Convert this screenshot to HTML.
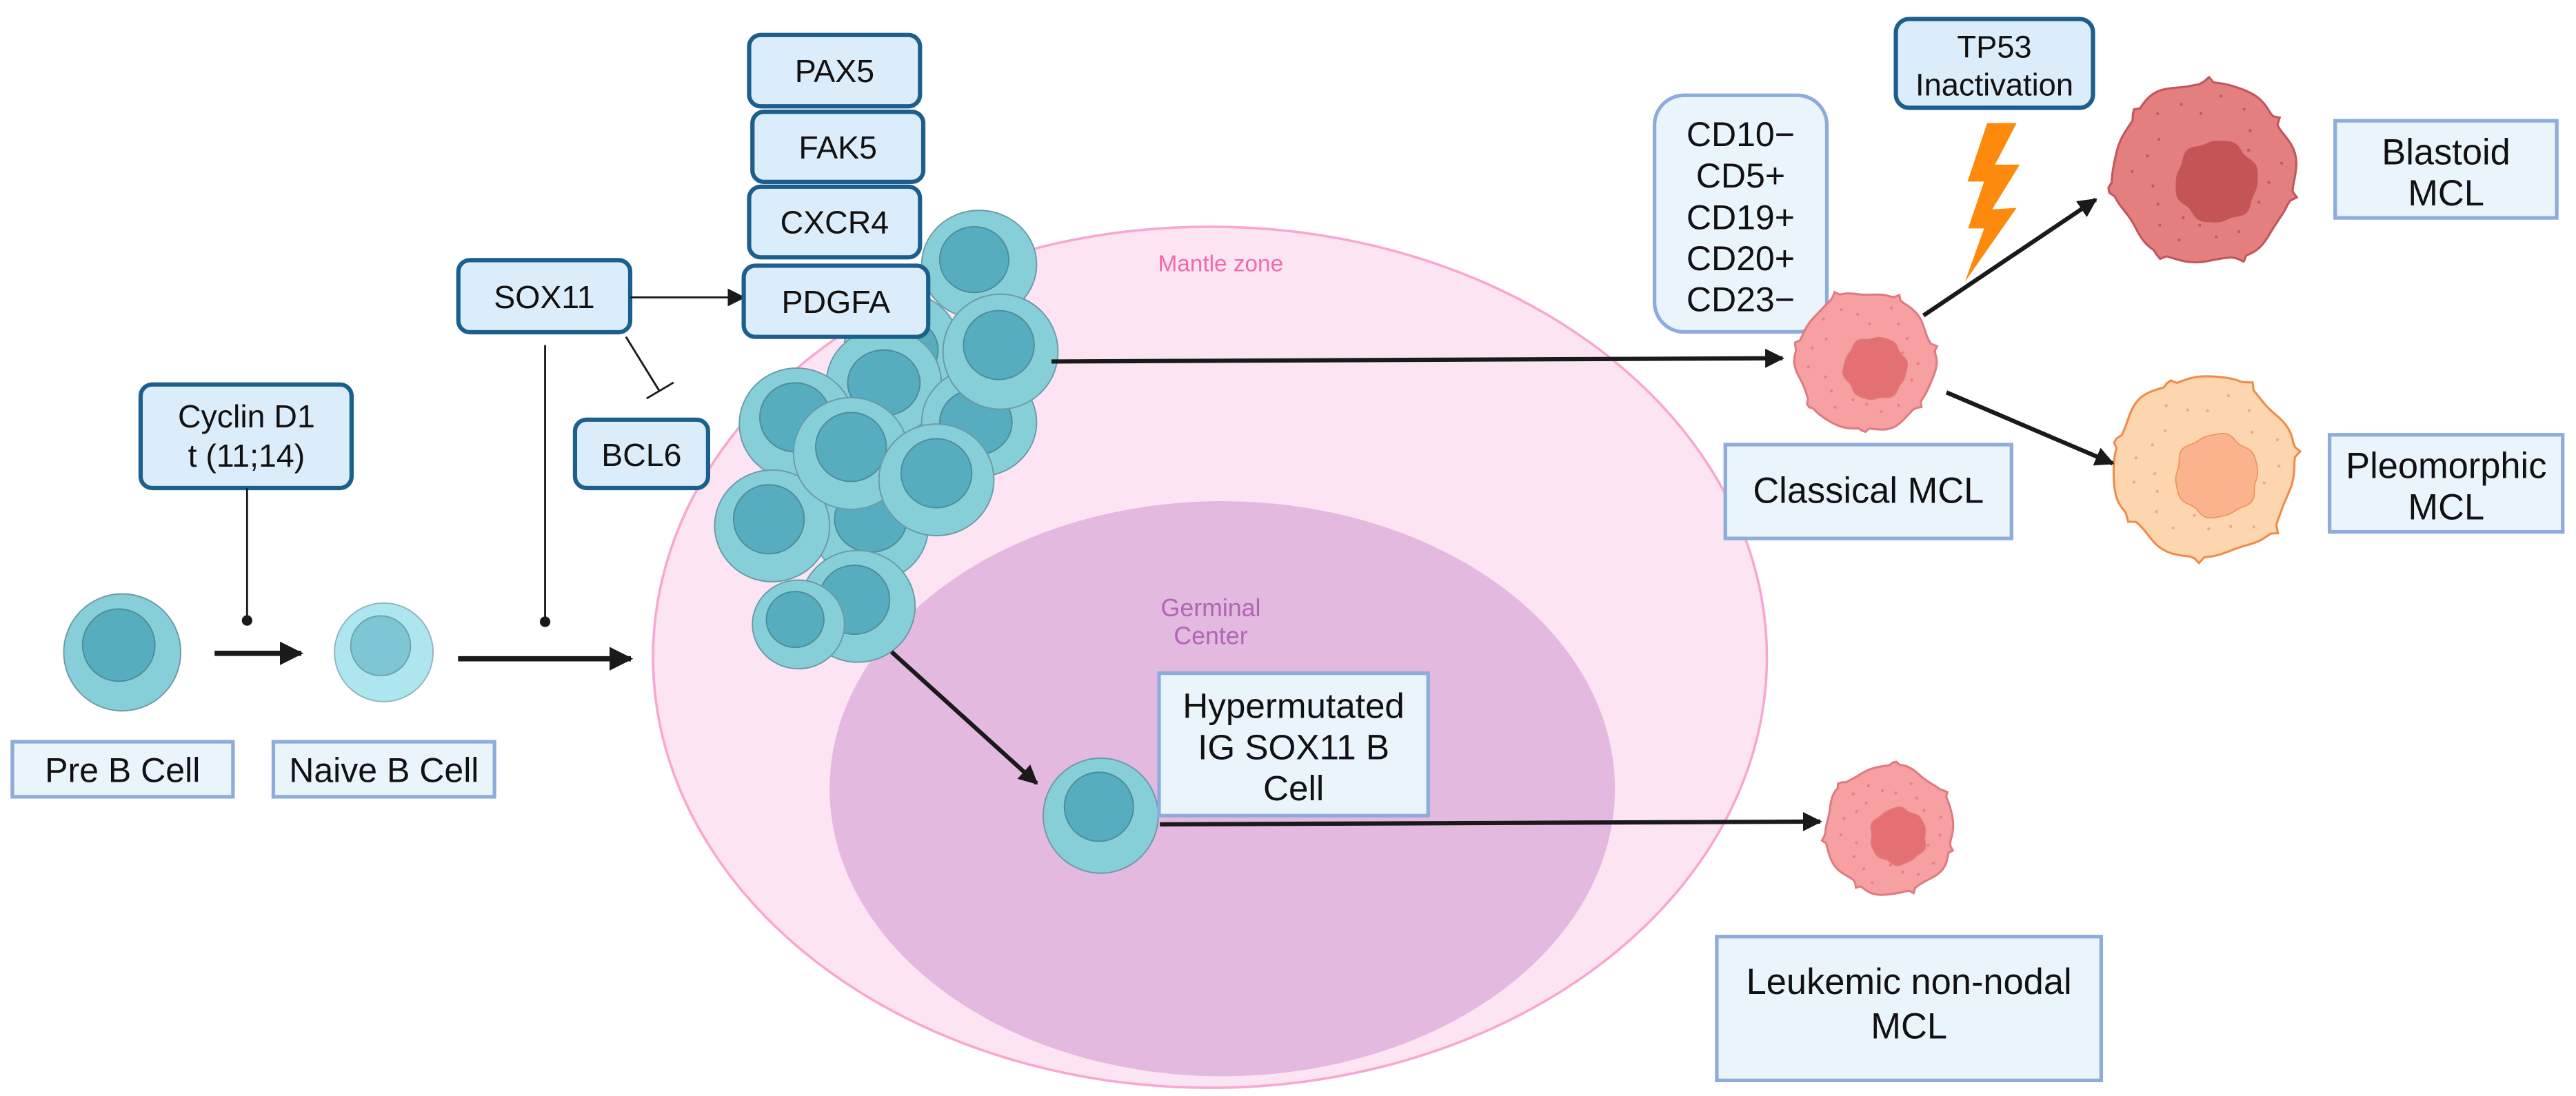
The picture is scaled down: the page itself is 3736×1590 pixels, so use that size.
<!DOCTYPE html>
<html><head><meta charset="utf-8"><style>
html,body{margin:0;padding:0;background:#fff;}
svg{display:block;}
text{font-family:"Liberation Sans",sans-serif;fill:#111;text-anchor:middle;}
.db{fill:#dbecfa;stroke:#1d5f8c;stroke-width:2.6;}
.lb{fill:#eaf4fb;stroke:#8dacdb;stroke-width:2.2;}
.bo{fill:#86cfd9;stroke:#6a9aa5;stroke-width:0.8;}
.bi{fill:#57adc0;stroke:#4c8c9a;stroke-width:0.8;}
</style></head><body>
<svg width="3736" height="1590" viewBox="0 0 1568 667" preserveAspectRatio="none" xmlns="http://www.w3.org/2000/svg">
<defs>
<marker id="ah" viewBox="0 0 10 10" refX="9" refY="5" markerWidth="4.5" markerHeight="4.5" orient="auto" markerUnits="strokeWidth"><path d="M0,0 L10,5 L0,10 z" fill="#1a1a1a"/></marker>
<marker id="ah2" viewBox="0 0 10 10" refX="9" refY="5" markerWidth="9" markerHeight="9" orient="auto" markerUnits="strokeWidth"><path d="M0,0 L10,5 L0,10 z" fill="#1a1a1a"/></marker>
</defs>
<ellipse cx="736.5" cy="400" rx="339" ry="262" fill="#fde4f2" stroke="#f8a7d0" stroke-width="1.5"/>
<ellipse cx="744" cy="480" rx="239" ry="175" fill="#e3b9df"/>
<text x="743" y="165" font-size="14" style="fill:#f06aaa">Mantle zone</text>
<text x="737" y="375" font-size="15" style="fill:#b165b4">Germinal</text>
<text x="737" y="392" font-size="15" style="fill:#b165b4">Center</text>

<circle class="bo" cx="74.4" cy="397" r="35.6"/><circle class="bi" cx="72.3" cy="392.6" r="22"/>
<circle cx="233.6" cy="397" r="30" fill="#aee6ef" stroke="#8fb4bd" stroke-width="0.8"/><circle cx="231.7" cy="393" r="18.2" fill="#7fc6d4" stroke="#69a3ae" stroke-width="0.8"/>
<rect class="lb" x="7.5" y="451.4" width="134.3" height="33.5"/><text x="74.6" y="476" font-size="21">Pre B Cell</text>
<rect class="lb" x="166.4" y="451.4" width="134.6" height="33.5"/><text x="233.7" y="476" font-size="21">Naive B Cell</text>

<line x1="130.6" y1="397.6" x2="183.3" y2="397.6" stroke="#1a1a1a" stroke-width="3.2" marker-end="url(#ah)"/>
<line x1="278.8" y1="400.9" x2="384" y2="400.9" stroke="#1a1a1a" stroke-width="3.2" marker-end="url(#ah)"/>

<rect class="db" x="85.6" y="234" width="128.4" height="63" rx="7"/>
<text x="150" y="260" font-size="19.5">Cyclin D1</text><text x="150" y="284" font-size="19.5">t (11;14)</text>
<line x1="150.4" y1="297" x2="150.4" y2="377.6" stroke="#1a1a1a" stroke-width="1.2"/><circle cx="150.4" cy="377.6" r="3.2" fill="#1a1a1a"/>

<rect class="db" x="279" y="158.3" width="104.6" height="43.9" rx="7"/><text x="331.3" y="187.5" font-size="19.5">SOX11</text>
<line x1="331.8" y1="210" x2="331.8" y2="378.4" stroke="#1a1a1a" stroke-width="1.2"/><circle cx="331.8" cy="378.4" r="3.2" fill="#1a1a1a"/>
<line x1="383.6" y1="181" x2="452.7" y2="181" stroke="#1a1a1a" stroke-width="1.2" marker-end="url(#ah2)"/>
<line x1="381" y1="205" x2="401.6" y2="238.3" stroke="#1a1a1a" stroke-width="1.2"/>
<line x1="393.6" y1="242.5" x2="410" y2="232.8" stroke="#1a1a1a" stroke-width="1.2"/>
<rect class="db" x="350" y="255.4" width="81" height="41.6" rx="7"/><text x="390.5" y="283.5" font-size="19.5">BCL6</text>

<g>
<ellipse class="bo" cx="549" cy="211" rx="35" ry="33"/><ellipse class="bi" cx="549" cy="213" rx="22" ry="20"/>
<ellipse class="bo" cx="538" cy="233" rx="35" ry="33"/><ellipse class="bi" cx="538" cy="233" rx="22" ry="20"/>
<ellipse class="bo" cx="596" cy="257" rx="35" ry="33"/><ellipse class="bi" cx="594" cy="257" rx="22" ry="20"/>
<ellipse class="bo" cx="530" cy="321" rx="35" ry="33"/><ellipse class="bi" cx="530" cy="316" rx="22" ry="20"/>
<ellipse class="bo" cx="596" cy="161" rx="35" ry="33"/><ellipse class="bi" cx="593" cy="158" rx="21" ry="20"/>
<ellipse class="bo" cx="609" cy="214" rx="35" ry="35"/><ellipse class="bi" cx="608" cy="210" rx="21.5" ry="21"/>
<ellipse class="bo" cx="485" cy="258" rx="35" ry="34"/><ellipse class="bi" cx="484" cy="254" rx="21.5" ry="21"/>
<ellipse class="bo" cx="470" cy="320" rx="35" ry="34"/><ellipse class="bi" cx="468" cy="316" rx="21.5" ry="21"/>
<ellipse class="bo" cx="518" cy="276" rx="35" ry="34"/><ellipse class="bi" cx="518" cy="272" rx="21.5" ry="21"/>
<ellipse class="bo" cx="570" cy="292" rx="35" ry="34"/><ellipse class="bi" cx="570" cy="288" rx="21.5" ry="21"/>
<ellipse class="bo" cx="522" cy="369" rx="35" ry="34"/><ellipse class="bi" cx="520" cy="365" rx="21.5" ry="21"/>
<ellipse class="bo" cx="486" cy="380" rx="28" ry="27"/><ellipse class="bi" cx="484" cy="377" rx="17.5" ry="17"/>
</g>

<rect class="db" x="456" y="21.3" width="104" height="43.4" rx="7"/><text x="508" y="50" font-size="19.5">PAX5</text>
<rect class="db" x="458" y="68" width="104" height="42.7" rx="7"/><text x="510" y="96.5" font-size="19.5">FAK5</text>
<rect class="db" x="456" y="113.6" width="104" height="43" rx="7"/><text x="508" y="142" font-size="19.5">CXCR4</text>
<rect class="db" x="452.7" y="161.7" width="112.3" height="43.3" rx="7"/><text x="508.8" y="190.5" font-size="19.5">PDGFA</text>

<line x1="640" y1="220" x2="1085" y2="218" stroke="#1a1a1a" stroke-width="2.6" marker-end="url(#ah)"/>
<line x1="542.7" y1="396.7" x2="631" y2="476.7" stroke="#1a1a1a" stroke-width="2.6" marker-end="url(#ah)"/>

<circle class="bo" cx="670" cy="496.4" r="35"/><circle class="bi" cx="668.9" cy="491" r="21"/>
<rect class="lb" x="705.5" y="409.7" width="163.8" height="86.7"/>
<text x="787.4" y="437" font-size="21.5">Hypermutated</text><text x="787.4" y="462" font-size="21.5">IG SOX11 B</text><text x="787.4" y="487" font-size="21.5">Cell</text>
<line x1="706" y1="501.7" x2="1108" y2="500" stroke="#1a1a1a" stroke-width="2.6" marker-end="url(#ah)"/>

<rect class="lb" x="1007.1" y="58" width="104.9" height="144" rx="18"/>
<text x="1059.5" y="89" font-size="21">CD10−</text><text x="1059.5" y="114" font-size="21">CD5+</text><text x="1059.5" y="139.5" font-size="21">CD19+</text><text x="1059.5" y="164.5" font-size="21">CD20+</text><text x="1059.5" y="189.5" font-size="21">CD23−</text>

<rect class="db" x="1154" y="11.6" width="120" height="54" rx="8"/>
<text x="1214" y="35" font-size="19">TP53</text><text x="1214" y="58" font-size="19">Inactivation</text>
<polygon points="1209.6,74.9 1227.5,74.9 1214.4,100.2 1229.4,100.2 1212.6,127.4 1227.5,126.5 1196.1,171.4 1207.7,139 1198,139 1207.7,110.5 1197.6,110.5" fill="#fd8a0c"/>

<g id="cells"></g>
<circle id="fb1" cx="1135.5" cy="220" r="43" fill="#f6a0a2" stroke="#e07b7e"/>

<line x1="1170.8" y1="192" x2="1275.7" y2="121.4" stroke="#1a1a1a" stroke-width="2.6" marker-end="url(#ah)"/>
<line x1="1184.8" y1="238.8" x2="1286" y2="282" stroke="#1a1a1a" stroke-width="2.6" marker-end="url(#ah)"/>

<rect class="lb" x="1050.2" y="270.6" width="174.2" height="57.1"/><text x="1137.3" y="306" font-size="22">Classical MCL</text>
<rect class="lb" x="1421.4" y="73.5" width="134.9" height="59.1"/><text x="1488.9" y="100" font-size="22">Blastoid</text><text x="1488.9" y="125" font-size="22">MCL</text>
<rect class="lb" x="1418" y="264.6" width="141.9" height="59.1"/><text x="1489" y="291" font-size="22">Pleomorphic</text><text x="1489" y="316" font-size="22">MCL</text>
<rect class="lb" x="1045" y="570" width="234" height="87.5"/><text x="1162" y="605" font-size="22">Leukemic non-nodal</text><text x="1162" y="632" font-size="22">MCL</text>
</svg>
<script>
(function(){
var ns="http://www.w3.org/2000/svg",g=document.getElementById('cells');
var fb=document.getElementById('fb1');if(fb)fb.parentNode.removeChild(fb);
function blob(cx,cy,r,seed,amp,spk,sp){
 var d="",n=120;
 for(var i=0;i<=n;i++){var a=i/n*Math.PI*2;
  var rr=r*(1+amp*Math.sin(a*6+seed)+amp*0.5*Math.sin(a*10+seed*2));
  var s=Math.pow(Math.max(0,Math.sin(a*spk+seed*3)),30)*r*sp;rr+=s;
  d+=(i?"L":"M")+(cx+rr*Math.cos(a)).toFixed(2)+","+(cy+rr*Math.sin(a)).toFixed(2);}
 return d+"Z";}
function add(cx,cy,r,nr,fill,stroke,nf,dot,seed){
 var p=document.createElementNS(ns,'path');p.setAttribute('d',blob(cx,cy,r,seed,0.025,7,0.07));
 p.setAttribute('fill',fill);p.setAttribute('stroke',stroke);p.setAttribute('stroke-width','1.3');g.appendChild(p);
 for(var k=0;k<22;k++){var a=k*2.39+seed,rr=r*(0.55+0.35*((k*37%10)/10));
  var c=document.createElementNS(ns,'circle');c.setAttribute('cx',cx+rr*Math.cos(a));c.setAttribute('cy',cy+rr*Math.sin(a));
  c.setAttribute('r',0.9);c.setAttribute('fill',dot);g.appendChild(c);}
 var q=document.createElementNS(ns,'path');q.setAttribute('d',blob(cx+r*0.14,cy+r*0.1,nr,seed+1,0.04,5,0));
 q.setAttribute('fill',nf);q.setAttribute('stroke',stroke);q.setAttribute('stroke-width','0.6');g.appendChild(q);}
add(1135.5,220,42,19,'#f6a0a2','#e07b7e','#e57074','#e58083',1);
add(1341.6,105,55,24.6,'#e47f80','#c4555a','#c55457','#c4555a',2);
add(1341.6,284,55,25,'#fdd5ae','#ee8c4c','#fbb38e','#f3a585',3);
add(1150,505,39,17,'#f6a0a2','#e07b7e','#e57074','#e58083',4);
})();
</script>
</body></html>
